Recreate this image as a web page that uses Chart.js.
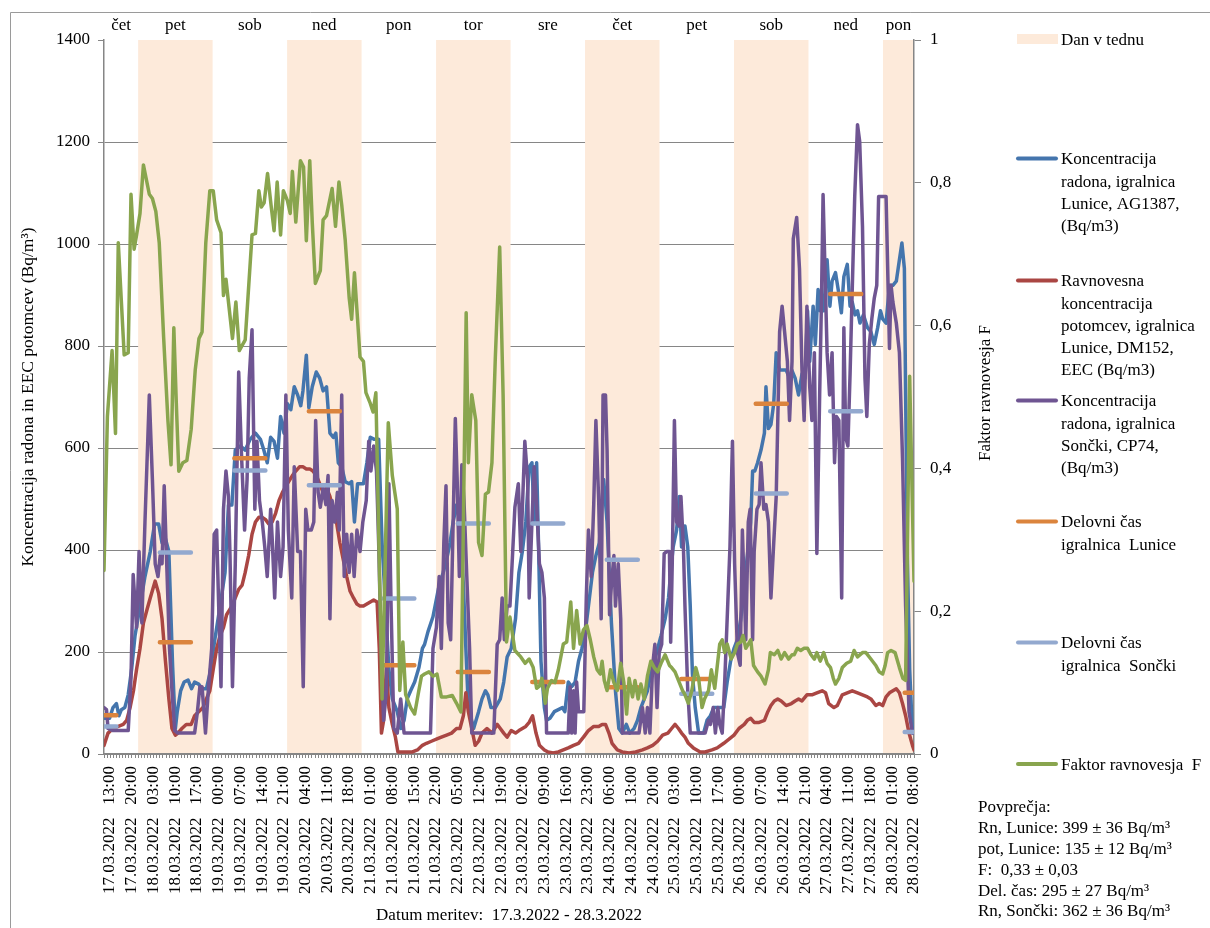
<!DOCTYPE html>
<html>
<head>
<meta charset="utf-8">
<script src="https://cdn.jsdelivr.net/npm/chart.js@4.4.0/dist/chart.umd.min.js"></script>
<style>
  html, body { margin: 0; padding: 0; background: #fff; }
  #wrap { width: 1210px; height: 928px; }
</style>
</head>
<body>
<div id="wrap"><canvas id="c" width="1210" height="928"></canvas></div>
<script>
// x = hours counted from 17.03.2022 13:00
var tickLabels = [
  '17.03.2022   13:00', '17.03.2022   20:00',
  '18.03.2022   03:00', '18.03.2022   10:00', '18.03.2022   17:00',
  '19.03.2022   00:00', '19.03.2022   07:00', '19.03.2022   14:00', '19.03.2022   21:00',
  '20.03.2022   04:00', '20.03.2022   11:00', '20.03.2022   18:00',
  '21.03.2022   01:00', '21.03.2022   08:00', '21.03.2022   15:00', '21.03.2022   22:00',
  '22.03.2022   05:00', '22.03.2022   12:00', '22.03.2022   19:00',
  '23.03.2022   02:00', '23.03.2022   09:00', '23.03.2022   16:00', '23.03.2022   23:00',
  '24.03.2022   06:00', '24.03.2022   13:00', '24.03.2022   20:00',
  '25.03.2022   03:00', '25.03.2022   10:00', '25.03.2022   17:00',
  '26.03.2022   00:00', '26.03.2022   07:00', '26.03.2022   14:00', '26.03.2022   21:00',
  '27.03.2022   04:00', '27.03.2022   11:00', '27.03.2022   18:00',
  '28.03.2022   01:00', '28.03.2022   08:00'
];
var dayNames = ['čet', 'pet', 'sob', 'ned', 'pon', 'tor', 'sre', 'čet', 'pet', 'sob', 'ned', 'pon'];

// working-time (07:00-17:00) averages per day
var workLunice = [76, 219, 580, 672, 174, 161, 141, 131, 147, 687, 902, 120];
var workSoncki = [54, 395, 556, 527, 305, 452, 452, 381, 118, 511, 672, 43];

var radonLunice = [[0,70],[1.8,70],[2.9,91],[4.0,99],[4.8,75],[5.6,87],[6.7,91],[7.8,116],[8.9,166],[10.0,232],[11.6,290],[13.2,348],[14.9,397],[16.3,451],[17.6,451],[18.7,414],[19.8,422],[20.9,397],[22.1,174],[23.0,50],[23.6,83],[24.7,124],[25.8,141],[27.1,145],[28.2,128],[29.2,141],[30.5,137],[31.6,128],[33.0,128],[34.1,157],[35.7,224],[37.4,290],[39.0,356],[40.1,488],[41.2,488],[42.3,596],[43.9,604],[45.5,596],[47.1,617],[48.8,629],[50.4,617],[51.5,596],[52.6,571],[53.7,621],[54.8,613],[55.9,580],[56.9,662],[58.0,629],[59.1,687],[60.2,675],[61.3,720],[62.4,704],[63.4,683],[64.1,712],[65.2,782],[66.0,679],[67.1,720],[68.4,749],[69.5,737],[70.6,712],[71.7,720],[72.8,629],[73.9,621],[74.7,629],[75.5,571],[76.6,563],[77.7,534],[79.0,530],[79.8,534],[80.7,455],[81.7,530],[82.5,530],[83.6,530],[84.7,571],[85.8,621],[87.1,617],[88.5,617],[89.6,414],[90.7,290],[91.8,166],[92.9,108],[94.5,83],[95.6,50],[96.7,66],[97.7,108],[98.8,124],[100.1,141],[101.5,170],[102.6,207],[103.3,215],[104.4,240],[106.0,269],[108.0,331],[109.3,356],[110.4,381],[111.5,414],[112.5,455],[113.6,488],[114.7,455],[115.8,331],[116.6,207],[117.4,91],[119.1,50],[120.7,83],[121.8,108],[122.9,124],[123.7,116],[124.7,91],[126.1,91],[127.7,108],[128.8,141],[129.9,190],[131.2,207],[132.6,265],[133.7,356],[134.8,397],[135.9,455],[137.0,563],[137.9,571],[138.6,455],[139.4,571],[140.0,414],[140.8,182],[141.9,91],[142.6,66],[143.7,70],[145.1,83],[146.4,87],[147.7,91],[148.5,83],[149.6,141],[150.7,132],[151.8,141],[152.9,182],[154.0,207],[155.1,240],[156.1,290],[157.4,356],[158.5,389],[159.6,414],[161.0,538],[162.1,455],[163.5,257],[164.8,124],[165.9,50],[167.0,41],[168.3,58],[169.4,41],[170.8,50],[171.9,66],[173.0,91],[174.1,108],[175.1,124],[176.2,157],[177.3,182],[178.4,207],[179.5,232],[180.8,265],[181.9,306],[182.6,356],[183.4,406],[184.5,439],[185.4,505],[186.1,406],[187.2,447],[188.1,406],[188.9,290],[189.6,157],[190.5,91],[191.6,41],[193.2,41],[194.3,66],[195.4,75],[196.5,91],[197.6,91],[199.7,91],[200.8,141],[201.9,182],[203.0,207],[204.1,224],[205.2,265],[206.3,331],[207.3,389],[208.4,455],[209.0,555],[209.7,555],[210.6,571],[211.7,596],[212.8,629],[213.3,720],[214.1,638],[214.9,646],[215.8,687],[216.6,787],[217.7,753],[218.7,753],[219.8,753],[220.9,737],[221.6,753],[222.7,737],[223.8,704],[224.9,745],[225.9,737],[226.7,869],[227.4,770],[228.5,878],[229.2,803],[230.1,911],[230.8,869],[231.9,869],[233.0,969],[233.9,878],[234.6,927],[235.7,944],[236.8,902],[237.6,865],[238.4,936],[239.5,960],[240.4,878],[241.1,886],[242.0,861],[242.8,869],[243.6,845],[244.7,861],[246.0,836],[247.1,828],[248.2,803],[249.3,836],[250.2,869],[250.9,853],[252.0,845],[253.1,919],[254.2,919],[255.3,927],[256.3,969],[257.1,1002],[257.9,952],[258.3,704],[258.9,373],[259.6,166],[260.5,41],[261,41]];

var eecLunice = [[0,17],[1.3,41],[2.9,50],[4.6,54],[6.2,58],[7.3,66],[8.4,91],[9.5,124],[10.5,166],[11.6,207],[12.7,257],[13.8,282],[14.9,306],[16.5,339],[17.6,315],[18.7,265],[19.8,182],[20.9,108],[21.9,50],[23.0,37],[23.8,41],[25.1,50],[26.5,58],[28.1,58],[29.2,75],[30.5,83],[31.9,91],[33.0,108],[34.1,124],[35.2,166],[36.3,207],[37.4,232],[38.5,248],[39.5,273],[41.2,290],[42.3,306],[43.4,323],[44.5,331],[45.5,356],[46.6,389],[47.7,431],[48.8,455],[49.9,464],[51.0,464],[52.0,460],[53.1,451],[54.2,455],[55.3,472],[56.4,497],[57.5,513],[59.1,530],[60.7,546],[61.8,555],[63.0,563],[64.1,563],[65.2,559],[66.3,559],[67.3,555],[68.4,546],[69.5,530],[70.6,513],[71.7,522],[72.8,505],[73.9,476],[74.9,455],[76.0,414],[77.1,381],[78.2,348],[79.3,319],[80.4,306],[81.5,294],[82.5,290],[83.6,290],[84.7,294],[85.8,298],[86.9,302],[88.0,298],[88.7,207],[89.4,41],[90.1,66],[91.0,170],[91.8,91],[92.9,58],[93.9,33],[94.7,4],[96.1,4],[97.7,4],[99.4,4],[101.0,8],[102.6,17],[103.9,21],[105.5,25],[107.1,29],[108.7,33],[110.4,37],[112.0,41],[113.6,50],[114.7,50],[115.8,75],[116.6,120],[117.4,83],[118.5,50],[119.6,17],[120.7,25],[121.8,41],[123.4,50],[125.0,41],[126.7,58],[127.7,50],[128.8,41],[129.9,33],[131.2,46],[132.6,41],[133.7,46],[134.8,50],[135.9,54],[137.0,62],[138.1,75],[139.2,41],[140.3,17],[141.9,8],[143.1,4],[144.7,2],[146.4,4],[148.0,8],[149.6,12],[151.3,17],[152.9,21],[154.5,33],[156.1,46],[157.8,54],[159.4,54],[160.5,58],[161.6,58],[162.7,41],[163.7,21],[165.4,8],[167.0,4],[169.2,2],[171.3,4],[173.5,8],[175.1,12],[176.8,17],[178.4,25],[180.0,37],[181.7,41],[182.9,50],[184.0,58],[185.1,50],[186.1,41],[187.2,33],[188.3,21],[189.9,12],[192.1,4],[193.7,4],[195.9,8],[197.6,12],[199.7,21],[201.4,29],[203.0,37],[204.6,50],[206.3,58],[207.3,66],[208.4,70],[209.5,62],[211.1,62],[212.8,66],[213.9,83],[214.9,95],[216.0,104],[217.1,108],[218.2,104],[219.8,95],[221.5,99],[222.7,104],[223.8,108],[224.9,104],[226.5,116],[228.1,116],[229.7,120],[231.4,124],[232.5,120],[233.5,99],[235.2,91],[236.3,95],[237.9,116],[239.5,120],[241.1,124],[242.8,120],[244.4,116],[246.0,112],[247.1,108],[248.7,95],[249.8,99],[250.9,95],[252.0,112],[253.1,120],[254.2,124],[255.3,128],[256.3,120],[257.3,99],[258.3,75],[259.4,41],[260.5,17],[261,8]];

var radonSoncki = [[0,91],[0.8,87],[1.3,50],[2.9,46],[7.8,46],[8.7,149],[9.4,352],[10.5,248],[11.3,397],[12.2,257],[13.2,455],[14.6,704],[15.6,538],[16.5,373],[17.4,348],[18.1,389],[18.7,373],[19.4,526],[20.3,356],[21.1,207],[21.9,124],[22.8,46],[23.8,41],[29.2,41],[30.1,83],[30.9,132],[31.6,132],[32.7,41],[33.6,124],[34.7,207],[35.5,431],[36.3,439],[37.1,257],[37.7,132],[38.5,480],[39.3,555],[40.1,505],[40.6,389],[41.4,132],[42.3,373],[43.4,749],[44.3,588],[45.3,439],[46.1,538],[46.8,737],[47.7,832],[48.6,480],[49.3,613],[50.1,497],[51.0,455],[51.8,406],[52.6,348],[53.7,480],[54.2,422],[55.0,306],[55.9,455],[56.9,348],[57.7,406],[58.6,704],[59.4,439],[60.5,306],[61.3,563],[62.4,397],[63.3,397],[64.2,132],[65.0,480],[65.7,439],[66.8,439],[67.6,455],[68.2,654],[69.0,513],[69.7,484],[70.6,522],[71.5,489],[72.2,546],[72.8,265],[73.5,497],[74.4,455],[75.2,513],[75.8,439],[76.6,704],[77.4,348],[78.2,431],[79.0,356],[79.8,431],[80.6,348],[81.5,439],[82.5,397],[83.4,455],[84.5,497],[85.3,613],[86.0,555],[86.9,604],[87.8,555],[88.5,414],[89.3,207],[90.1,66],[91.0,124],[91.8,530],[92.5,290],[93.4,50],[94.5,41],[95.6,108],[96.7,41],[105.2,41],[106.0,207],[107.1,248],[108.0,348],[108.7,207],[109.5,414],[110.2,526],[110.9,257],[111.7,224],[112.5,455],[113.2,658],[113.8,538],[114.5,348],[115.3,567],[116.0,497],[116.9,348],[117.8,207],[118.5,41],[125.6,41],[126.7,215],[127.5,224],[128.3,306],[129.0,224],[129.9,290],[130.8,290],[131.5,373],[132.4,484],[133.5,530],[134.3,397],[135.6,613],[136.5,538],[137.0,306],[137.9,455],[138.6,563],[139.4,489],[140.3,373],[141.1,356],[141.9,306],[142.6,41],[149.6,41],[150.2,132],[150.7,41],[151.3,124],[151.8,41],[152.3,141],[152.9,83],[154.6,83],[155.4,306],[156.1,439],[157.0,348],[157.8,489],[158.5,654],[159.4,497],[160.2,265],[160.8,704],[161.6,704],[162.1,596],[162.9,273],[163.5,331],[164.3,389],[164.8,290],[165.7,373],[166.5,265],[167.0,41],[172.4,41],[173.5,91],[174.4,41],[175.1,91],[175.9,41],[176.8,174],[177.5,215],[178.2,91],[178.9,199],[179.7,215],[180.5,393],[181.3,397],[182.2,397],[182.6,219],[183.1,373],[183.8,654],[184.5,455],[185.3,447],[185.9,505],[186.7,406],[187.2,290],[188.1,124],[188.9,41],[193.7,41],[194.8,66],[195.4,58],[196.3,91],[197.0,41],[197.8,91],[198.4,58],[199.2,41],[200.0,141],[200.8,265],[201.7,406],[202.5,613],[203.2,373],[204.1,199],[205.0,174],[205.7,439],[206.8,224],[207.6,455],[208.2,480],[209.0,224],[209.5,397],[210.4,480],[211.1,489],[211.7,571],[212.6,480],[213.3,489],[214.1,455],[214.9,306],[215.8,414],[216.6,505],[217.7,828],[218.5,878],[219.3,828],[220.2,770],[220.9,654],[221.7,770],[222.1,1010],[223.2,1052],[224.1,952],[224.9,753],[225.6,654],[226.5,878],[227.4,720],[228.1,654],[228.9,787],[229.7,393],[230.6,704],[231.2,894],[231.7,1097],[232.2,977],[233.0,787],[233.8,704],[234.6,787],[235.4,571],[236.0,662],[236.8,654],[237.7,306],[238.4,836],[239.0,621],[239.7,604],[240.4,745],[241.1,911],[241.9,1093],[242.8,1234],[243.5,1201],[244.4,1035],[245.2,737],[245.8,662],[246.6,803],[247.4,853],[248.2,894],[249.0,919],[249.6,1093],[252.0,1093],[253.1,795],[253.6,919],[254.2,886],[255.3,845],[256.3,787],[257.3,580],[258.3,290],[259.4,83],[260.5,41],[261,41]];

var factorF = [[0,0.257],[1.1,0.473],[2.6,0.565],[3.7,0.449],[4.6,0.716],[6.5,0.559],[7.8,0.562],[8.7,0.784],[9.7,0.707],[10.5,0.727],[11.6,0.757],[12.7,0.825],[14.6,0.784],[15.6,0.778],[16.7,0.76],[17.8,0.716],[19.2,0.585],[20.6,0.467],[21.6,0.405],[22.5,0.597],[23.3,0.491],[24.1,0.396],[25.4,0.408],[26.7,0.411],[28.1,0.455],[29.4,0.538],[30.6,0.582],[31.6,0.591],[32.8,0.716],[34.1,0.789],[35.2,0.789],[36.3,0.748],[37.7,0.73],[38.5,0.642],[39.3,0.665],[41.4,0.582],[42.5,0.633],[43.6,0.565],[45.5,0.58],[47.7,0.727],[48.8,0.729],[49.9,0.789],[50.7,0.766],[51.6,0.772],[52.7,0.813],[53.9,0.766],[54.8,0.733],[55.8,0.801],[56.9,0.727],[57.8,0.789],[59.1,0.775],[60.0,0.757],[60.7,0.816],[61.8,0.745],[63.3,0.831],[64.3,0.822],[65.2,0.719],[66.3,0.831],[67.1,0.745],[68.1,0.659],[69.7,0.677],[70.6,0.748],[71.7,0.754],[73.5,0.792],[74.6,0.739],[75.7,0.801],[76.6,0.769],[77.7,0.721],[79.0,0.639],[79.8,0.609],[80.7,0.674],[81.7,0.609],[82.5,0.556],[83.6,0.55],[84.4,0.506],[85.8,0.491],[86.7,0.479],[87.6,0.506],[89.6,0.077],[91.6,0.464],[92.9,0.39],[94.5,0.343],[95.3,0.089],[96.3,0.157],[97.2,0.083],[98.8,0.065],[100.1,0.056],[101.2,0.083],[102.3,0.109],[103.3,0.112],[104.7,0.115],[106.0,0.109],[107.3,0.112],[108.7,0.08],[110.4,0.08],[112.2,0.082],[113.6,0.071],[115.0,0.059],[116.7,0.618],[117.4,0.408],[118.5,0.503],[119.8,0.467],[120.7,0.296],[121.8,0.278],[122.9,0.364],[123.9,0.367],[125.0,0.408],[126.1,0.556],[127.5,0.71],[128.6,0.503],[129.7,0.157],[130.8,0.192],[132.4,0.145],[134.3,0.136],[135.7,0.127],[137.0,0.133],[138.3,0.121],[139.4,0.092],[140.3,0.095],[141.1,0.106],[142.2,0.071],[142.9,0.092],[144.2,0.103],[145.3,0.1],[146.4,0.118],[148.0,0.154],[149.1,0.157],[150.4,0.213],[151.3,0.148],[152.3,0.201],[153.4,0.154],[154.5,0.174],[155.6,0.18],[156.7,0.16],[157.8,0.136],[158.9,0.118],[159.9,0.112],[160.5,0.13],[161.2,0.103],[162.1,0.089],[163.2,0.118],[164.3,0.1],[165.4,0.089],[166.5,0.127],[167.5,0.1],[168.4,0.056],[169.2,0.106],[170.3,0.08],[171.1,0.103],[172.1,0.077],[173.0,0.098],[174.1,0.077],[175.1,0.109],[176.2,0.13],[177.3,0.121],[178.4,0.115],[179.5,0.127],[180.8,0.139],[182.2,0.124],[182.9,0.121],[184.0,0.115],[185.1,0.103],[186.4,0.089],[187.2,0.083],[188.3,0.071],[189.4,0.089],[190.7,0.121],[191.6,0.106],[192.7,0.065],[193.5,0.077],[194.8,0.089],[195.7,0.118],[196.8,0.092],[198.4,0.154],[199.2,0.16],[200.0,0.142],[200.8,0.154],[202.1,0.133],[203.2,0.142],[204.1,0.154],[205.2,0.157],[205.9,0.166],[206.8,0.148],[207.6,0.154],[208.4,0.16],[209.3,0.124],[210.6,0.115],[211.7,0.109],[213.0,0.098],[214.1,0.118],[214.7,0.142],[216.0,0.139],[217.1,0.145],[218.2,0.133],[219.3,0.142],[220.6,0.133],[221.7,0.139],[222.4,0.139],[223.4,0.148],[224.5,0.145],[225.6,0.148],[226.7,0.148],[227.8,0.139],[228.9,0.133],[229.7,0.142],[230.8,0.13],[231.9,0.142],[233.0,0.127],[234.1,0.121],[235.0,0.106],[235.7,0.098],[236.8,0.106],[237.9,0.121],[239.3,0.127],[240.6,0.13],[241.7,0.145],[242.8,0.136],[244.4,0.142],[245.5,0.142],[247.1,0.133],[248.7,0.124],[249.8,0.115],[250.9,0.112],[251.7,0.124],[252.5,0.142],[253.6,0.145],[254.9,0.142],[256.3,0.121],[257.4,0.106],[258.3,0.103],[259.6,0.529],[261,0.242]];

var averages = [
  'Povprečja:',
  'Rn, Lunice: 399 ± 36 Bq/m³',
  'pot, Lunice: 135 ± 12 Bq/m³',
  'F:  0,33 ± 0,03',
  'Del. čas: 295 ± 27 Bq/m³',
  'Rn, Sončki: 362 ± 36 Bq/m³'
];

var X_MAX = 261;
var FONT = 'Liberation Serif, Times New Roman, serif';
var C = {
  band: '#FDEADA', blue: '#4475AD', red: '#AA4643', purple: '#6F5592',
  orange: '#DB843D', light: '#93A9CF', green: '#89A54E', axis: '#868686'
};

// day k (0 = 17.03) runs from midnight to midnight; first midnight is 11 h after start
function dayRange(k) {
  return [Math.max(0, 24 * k - 13), Math.min(X_MAX, 24 * k + 11)];
}
function workSegments(vals) {
  var out = [];
  vals.forEach(function (v, k) {
    var s = Math.max(0, 24 * k - 6), e = Math.min(X_MAX, 24 * k + 4);
    out.push([s, v], [e, v], [e, null]);
  });
  return out;
}

var legendItems = [
  { box: true, y: 39, lines: ['Dan v tednu'] },
  { color: C.blue, y: 158.5, lines: ['Koncentracija', 'radona, igralnica', 'Lunice, AG1387,', '(Bq/m3)'] },
  { color: C.red, y: 280.5, lines: ['Ravnovesna', 'koncentracija', 'potomcev, igralnica', 'Lunice, DM152,', 'EEC (Bq/m3)'] },
  { color: C.purple, y: 400.5, lines: ['Koncentracija', 'radona, igralnica', 'Sončki, CP74,', '(Bq/m3)'] },
  { color: C.orange, y: 521.5, lines: ['Delovni čas', 'igralnica  Lunice'] },
  { color: C.light, y: 642.5, lines: ['Delovni čas', 'igralnica  Sončki'] },
  { color: C.green, y: 764, lines: ['Faktor ravnovesja  F'] }
];

var decor = {
  id: 'decor',
  beforeDatasetsDraw: function (chart) {
    var ctx = chart.ctx, a = chart.chartArea, xs = chart.scales.x;
    ctx.save();
    ctx.fillStyle = C.band;
    for (var k = 1; k < dayNames.length; k += 2) {
      var r = dayRange(k);
      var x1 = xs.getPixelForValue(r[0]);
      var x2 = Math.min(xs.getPixelForValue(r[1]), a.right - 1);
      ctx.fillRect(x1, a.top, x2 - x1, a.bottom - a.top - 1);
    }
    ctx.restore();
  },
  afterDraw: function (chart) {
    var ctx = chart.ctx, xs = chart.scales.x;
    ctx.save();
    // outer frame
    ctx.strokeStyle = '#9a9a9a';
    ctx.lineWidth = 1;
    ctx.beginPath();
    ctx.moveTo(10.5, 928); ctx.lineTo(10.5, 12.5); ctx.lineTo(1210, 12.5);
    ctx.stroke();

    ctx.fillStyle = '#000';
    ctx.font = '17px ' + FONT;
    ctx.textAlign = 'center';
    ctx.textBaseline = 'middle';
    dayNames.forEach(function (d, k) {
      var r = dayRange(k);
      ctx.fillText(d, (xs.getPixelForValue(r[0]) + xs.getPixelForValue(r[1])) / 2, 26);
    });

    // right axis title
    ctx.save();
    ctx.translate(986, 393);
    ctx.rotate(-Math.PI / 2);
    ctx.fillText('Faktor ravnovesja F', 0, 0);
    ctx.restore();

    // legend
    ctx.textAlign = 'left';
    legendItems.forEach(function (it) {
      if (it.box) {
        ctx.fillStyle = C.band;
        ctx.fillRect(1017, it.y - 5, 41, 10);
      } else {
        ctx.strokeStyle = it.color;
        ctx.lineWidth = 4;
        ctx.lineCap = 'round';
        ctx.beginPath();
        ctx.moveTo(1018, it.y); ctx.lineTo(1056, it.y);
        ctx.stroke();
      }
      ctx.fillStyle = '#000';
      it.lines.forEach(function (t, i) {
        ctx.fillText(t, 1061, it.y + 1.5 + i * 22.2);
      });
    });

    averages.forEach(function (t, i) {
      ctx.fillText(t, 978, 808 + i * 20.8);
    });
    ctx.restore();
  }
};

var lineStyle = { pointRadius: 0, tension: 0, borderJoinStyle: 'round', borderCapStyle: 'round', fill: false };

new Chart(document.getElementById('c'), {
  type: 'line',
  data: {
    datasets: [
      Object.assign({ label: 'Koncentracija radona, igralnica Lunice, AG1387, (Bq/m3)', data: radonLunice, borderColor: C.blue, borderWidth: 3.5, yAxisID: 'y', order: 6 }, lineStyle),
      Object.assign({ label: 'Ravnovesna koncentracija potomcev, igralnica Lunice, DM152, EEC (Bq/m3)', data: eecLunice, borderColor: C.red, borderWidth: 3.5, yAxisID: 'y', order: 5 }, lineStyle),
      Object.assign({ label: 'Koncentracija radona, igralnica Sončki, CP74, (Bq/m3)', data: radonSoncki, borderColor: C.purple, borderWidth: 3.5, yAxisID: 'y', order: 4 }, lineStyle),
      Object.assign({ label: 'Delovni čas igralnica Lunice', data: workSegments(workLunice), borderColor: C.orange, borderWidth: 4.5, yAxisID: 'y', order: 3, spanGaps: false }, lineStyle),
      Object.assign({ label: 'Delovni čas igralnica Sončki', data: workSegments(workSoncki), borderColor: C.light, borderWidth: 4.5, yAxisID: 'y', order: 2, spanGaps: false }, lineStyle),
      Object.assign({ label: 'Faktor ravnovesja F', data: factorF, borderColor: C.green, borderWidth: 3.5, yAxisID: 'y1', order: 1 }, lineStyle)
    ]
  },
  options: {
    responsive: false,
    animation: false,
    events: [],
    layout: { padding: { left: 0, right: 236, top: 40, bottom: 0 } },
    plugins: { legend: { display: false }, tooltip: { enabled: false } },
    scales: {
      x: {
        type: 'linear',
        min: 0,
        max: X_MAX,
        afterBuildTicks: function (s) {
          var t = [];
          for (var h = 0; h <= X_MAX; h++) t.push({ value: h });
          s.ticks = t;
        },
        afterFit: function (s) { s.height = 174; },
        grid: { drawOnChartArea: false, tickLength: 4, color: C.axis },
        border: { color: C.axis, width: 1.5 },
        ticks: {
          autoSkip: false,
          minRotation: 90,
          maxRotation: 90,
          padding: 8,
          labelOffset: 6,
          color: '#000',
          font: { family: FONT, size: 17 },
          callback: function (v) { return v % 7 === 0 ? tickLabels[v / 7] : ''; }
        },
        title: {
          display: true,
          text: 'Datum meritev:  17.3.2022 - 28.3.2022',
          color: '#000',
          font: { family: FONT, size: 17 },
          padding: { top: 0, bottom: 2 }
        }
      },
      y: {
        position: 'left',
        min: 0,
        max: 1400,
        afterFit: function (s) { s.width = 104; },
        grid: {
          color: function (c) { return c.tick && c.tick.value === 1400 ? 'rgba(0,0,0,0)' : C.axis; },
          tickColor: C.axis,
          tickLength: 6
        },
        border: { color: C.axis, width: 1.5 },
        ticks: {
          stepSize: 200,
          padding: 8,
          color: '#000',
          font: { family: FONT, size: 17 },
          callback: function (v) { return String(v); }
        },
        title: {
          display: true,
          text: 'Koncentracija radona in EEC potomcev (Bq/m³)',
          color: '#000',
          font: { family: FONT, size: 17.5 },
          padding: { top: 18 }
        }
      },
      y1: {
        position: 'right',
        min: 0,
        max: 1,
        afterFit: function (s) { s.width = 60; },
        grid: { drawOnChartArea: false, color: C.axis, tickLength: 7 },
        border: { color: C.axis, width: 1.5 },
        ticks: {
          stepSize: 0.2,
          padding: 9,
          color: '#000',
          font: { family: FONT, size: 17 },
          callback: function (v) {
            if (v === 0 || v === 1) return String(v);
            return v.toFixed(1).replace('.', ',');
          }
        }
      }
    }
  },
  plugins: [decor]
});
</script>
</body>
</html>
